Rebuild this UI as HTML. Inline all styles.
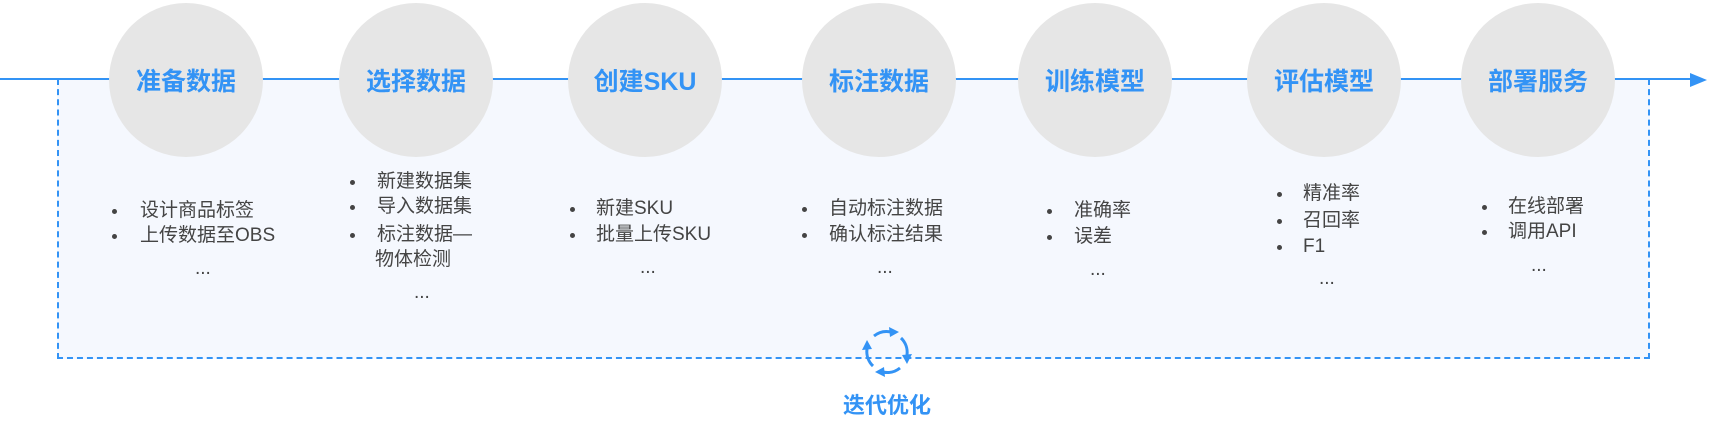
<!DOCTYPE html>
<html><head><meta charset="utf-8"><style>
body{margin:0;width:1720px;height:434px;overflow:hidden;background:#fff;position:relative;font-family:"Liberation Sans","Noto Sans CJK SC",sans-serif}
.c{position:absolute;width:154px;height:154px;border-radius:50%;background:#e6e6e6;top:3px;display:flex;align-items:center;justify-content:center;color:#3393f5;font-weight:bold;font-size:25px}
.t{position:absolute;font-size:19px;color:#444;line-height:26px;height:26px;white-space:nowrap}
.d{position:absolute;width:5px;height:5px;border-radius:50%;background:#444}
</style></head><body>
<div style="position:absolute;left:57px;top:79px;width:1593px;height:280px;background:#f5f8fe;border:2px dashed #3393f5;border-top:none;box-sizing:border-box"></div>
<div style="position:absolute;left:0;top:78px;width:1695px;height:2px;background:#3393f5"></div>
<svg style="position:absolute;left:1690px;top:71px" width="20" height="18"><polygon points="0,2 17,9 0,16" fill="#3393f5"/></svg>
<div class="c" style="left:109px">准备数据</div>
<div class="c" style="left:339px">选择数据</div>
<div class="c" style="left:568px">创建SKU</div>
<div class="c" style="left:802px">标注数据</div>
<div class="c" style="left:1018px">训练模型</div>
<div class="c" style="left:1247px">评估模型</div>
<div class="c" style="left:1461px">部署服务</div>

<div class="d" style="left:112px;top:209px"></div><div class="t" style="left:140px;top:198px">设计商品标签</div>
<div class="d" style="left:112px;top:234px"></div><div class="t" style="left:140px;top:223px">上传数据至OBS</div>
<div class="t" style="left:195px;top:256px">...</div>

<div class="d" style="left:350px;top:180px"></div><div class="t" style="left:377px;top:169px">新建数据集</div>
<div class="d" style="left:350px;top:205px"></div><div class="t" style="left:377px;top:194px">导入数据集</div>
<div class="d" style="left:350px;top:233px"></div><div class="t" style="left:377px;top:222px">标注数据—</div>
<div class="t" style="left:375px;top:247px">物体检测</div>
<div class="t" style="left:414px;top:280px">...</div>

<div class="d" style="left:570px;top:207px"></div><div class="t" style="left:596px;top:196px">新建SKU</div>
<div class="d" style="left:570px;top:233px"></div><div class="t" style="left:596px;top:222px">批量上传SKU</div>
<div class="t" style="left:640px;top:255px">...</div>

<div class="d" style="left:802px;top:207px"></div><div class="t" style="left:829px;top:196px">自动标注数据</div>
<div class="d" style="left:802px;top:233px"></div><div class="t" style="left:829px;top:222px">确认标注结果</div>
<div class="t" style="left:877px;top:255px">...</div>

<div class="d" style="left:1047px;top:209px"></div><div class="t" style="left:1074px;top:198px">准确率</div>
<div class="d" style="left:1047px;top:235px"></div><div class="t" style="left:1074px;top:224px">误差</div>
<div class="t" style="left:1090px;top:257px">...</div>

<div class="d" style="left:1277px;top:192px"></div><div class="t" style="left:1303px;top:181px">精准率</div>
<div class="d" style="left:1277px;top:219px"></div><div class="t" style="left:1303px;top:208px">召回率</div>
<div class="d" style="left:1277px;top:245px"></div><div class="t" style="left:1303px;top:234px">F1</div>
<div class="t" style="left:1319px;top:266px">...</div>

<div class="d" style="left:1482px;top:205px"></div><div class="t" style="left:1508px;top:194px">在线部署</div>
<div class="d" style="left:1482px;top:230px"></div><div class="t" style="left:1508px;top:219px">调用API</div>
<div class="t" style="left:1531px;top:253px">...</div>

<svg style="position:absolute;left:857px;top:322px" width="60" height="60" viewBox="-30 -30 60 60">
<g fill="none" stroke="#3393f5" stroke-width="3">
<path d="M-13,-16 A20,20 0 0 1 4,-20"/>
<path d="M14,-14 A20,20 0 0 1 20,3"/>
<path d="M13,16 A20,20 0 0 1 -4,20"/>
<path d="M-14,14 A20,20 0 0 1 -20,-3"/>
</g>
<g fill="#3393f5">
<polygon points="12,-20 2,-25 3,-15"/>
<polygon points="20,12 25,2 15,3"/>
<polygon points="-12,20 -2,25 -3,15"/>
<polygon points="-20,-12 -25,-2 -15,-3"/>
</g></svg>
<div style="position:absolute;left:837px;top:392px;width:100px;text-align:center;font-size:22px;font-weight:bold;color:#3393f5;line-height:28px">迭代优化</div>
</body></html>
